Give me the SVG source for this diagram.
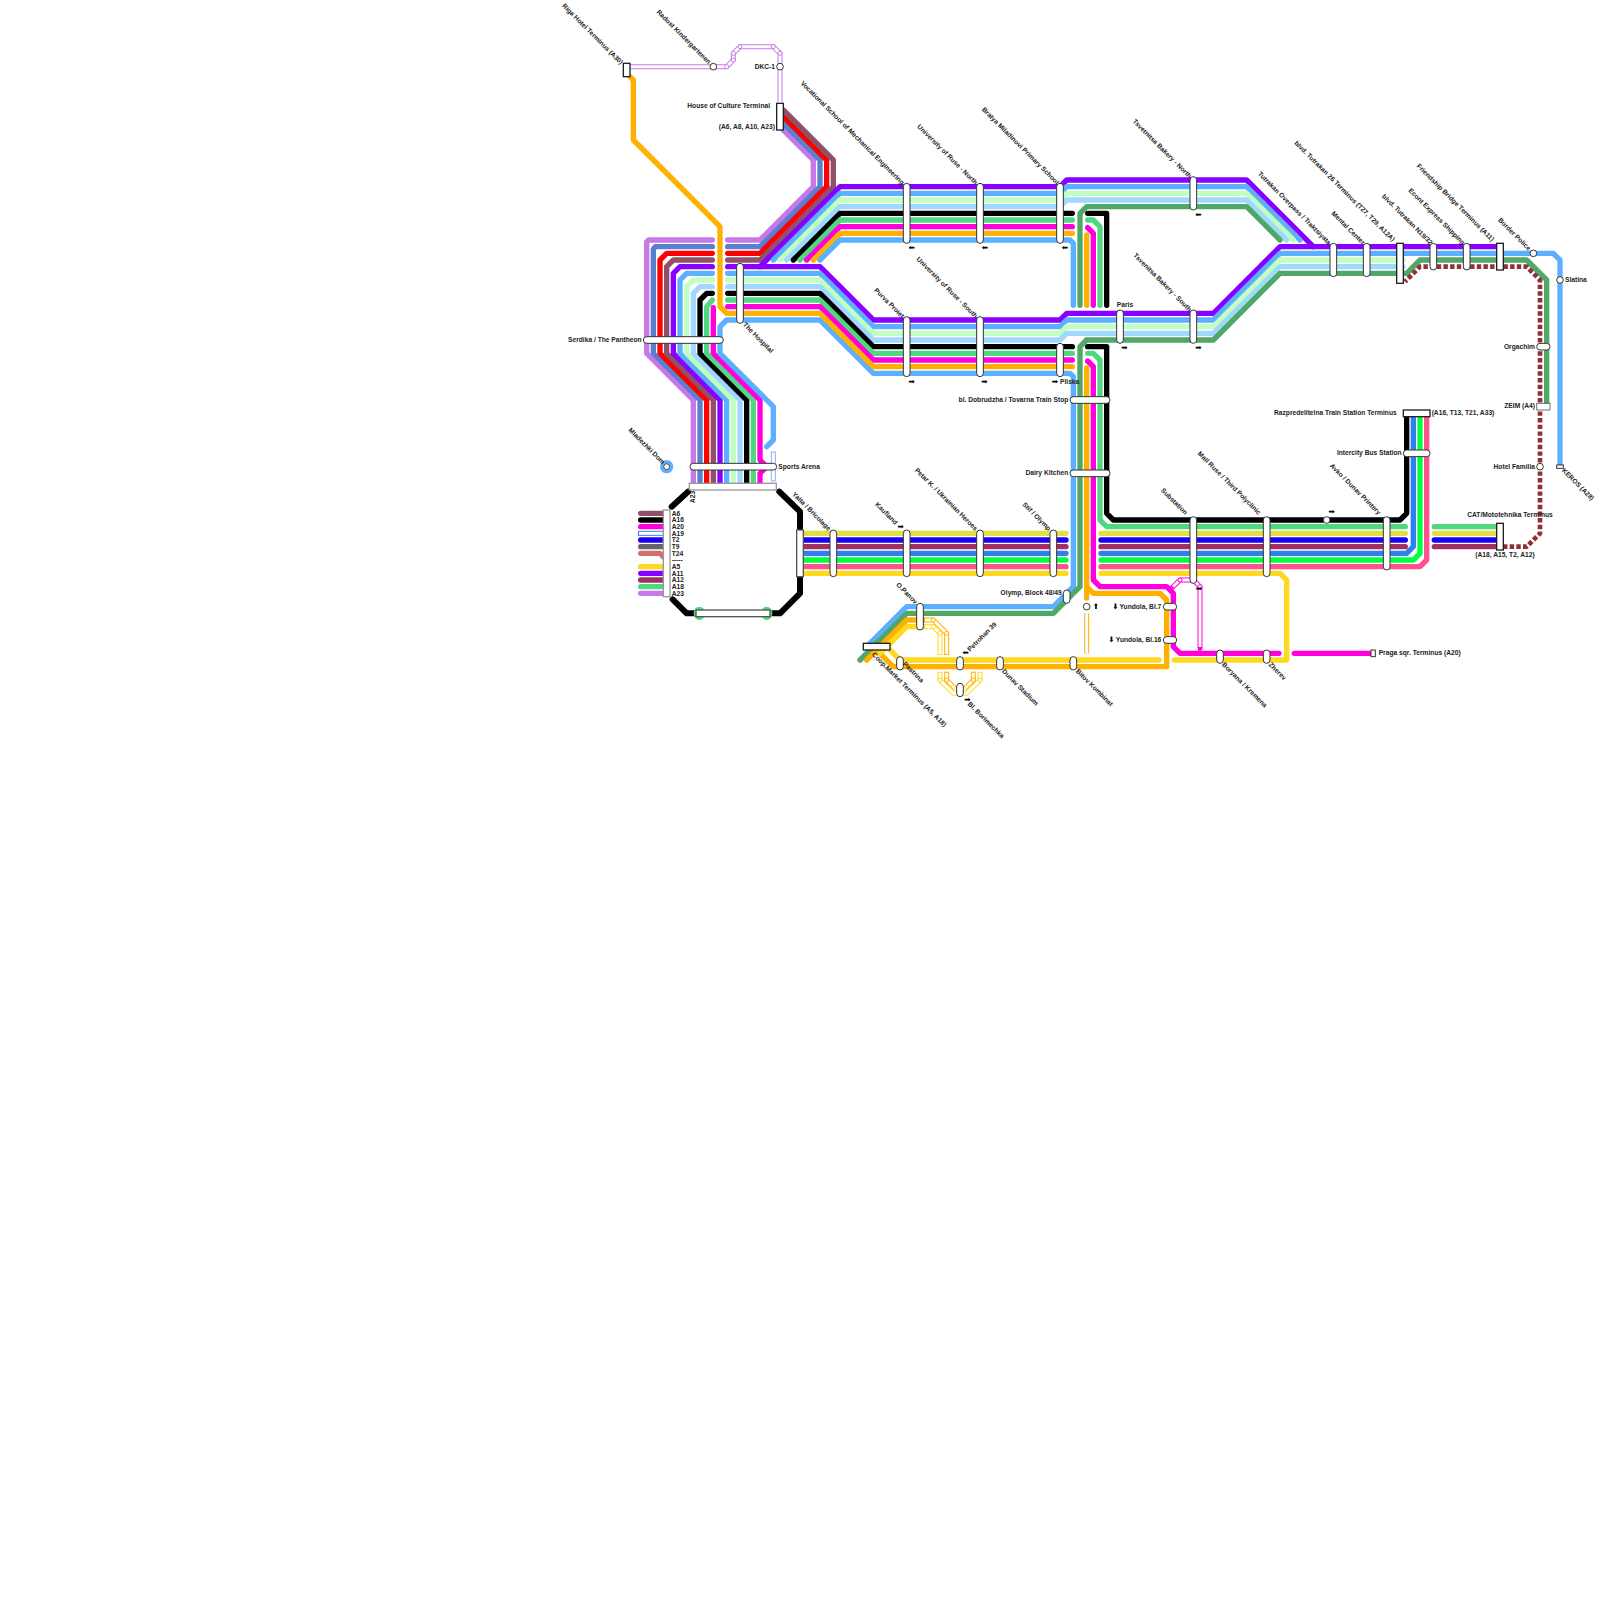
<svg xmlns="http://www.w3.org/2000/svg" width="1600" height="1600" viewBox="0 0 1600 1600">
<defs><style>
text{font-family:"Liberation Sans",Arial,sans-serif;font-size:6.67px;font-weight:700;fill:#222;dominant-baseline:central}
.e{text-anchor:end}.m{text-anchor:middle}
text.ar{font-family:"DejaVu Sans",sans-serif;font-size:7.5px;font-weight:400;text-anchor:middle;fill:#000}
#connectors path{fill:none;stroke-width:5.33;stroke-linecap:round;stroke-linejoin:round}
.pur{stroke:#8800ff}.blu{stroke:#5cb0ff}.lg{stroke:#c0ffc0}.lb{stroke:#a0d8ff}.blk{stroke:#000}.grn{stroke:#50d880}.mag{stroke:#ff00dd}.org{stroke:#ffb000}.dg{stroke:#50a868}.orc{stroke:#c878e8}.stl{stroke:#5880d0}.red{stroke:#f00}.mau{stroke:#905068}.yg{stroke:#e0e040}.ind{stroke:#2000f0}.cri{stroke:#a03060}.az{stroke:#3080f0}.neo{stroke:#00ff40}.pnk{stroke:#ff5090}.yel{stroke:#ffd820}.gry{stroke:#666}.sal{stroke:#d07070}
#connectors path.drk{stroke:#903038;stroke-linecap:butt;stroke-dasharray:4.4 2.27;stroke-width:4.67}
#connectors path.hw{stroke-width:5;stroke-linecap:butt}
#connectors path.hi{stroke:#fff;stroke-width:3;stroke-linecap:butt}
#connectors path.oct{stroke-width:6}
.j{fill:#fff;stroke-width:1}
.p{fill:#fff;stroke:#333;stroke-width:1}
.t{fill:#fff;stroke:#222;stroke-width:1.33}
.g{fill:#fff;stroke:#999;stroke-width:1.33}
.c{fill:#fff;stroke:#333;stroke-width:1}
</style></defs>
<rect width="1600" height="1600" fill="#fff"/>
<g id="connectors">
<path class="orc" d="M727.67,240H760L813.33,186.67V160L783.33,130"/>
<path class="stl" d="M727.67,246.67H760L820,186.67V160L783.33,123.33"/>
<path class="red" d="M727.67,253.33H760L826.67,186.67V160L783.33,116.67"/>
<path class="mau" d="M727.67,260H760L833.33,186.67V160L783.33,110"/>
<path class="orc" d="M712.33,240H648.67L646.67,242V353.33L693.33,400V483"/>
<path class="stl" d="M712.33,246.67H655.33L653.33,249V353.33L700,400V483"/>
<path class="red" d="M712.33,253.33H666.67L660,260V353.33L706.67,400V483"/>
<path class="mau" d="M712.33,260H673.33L666.67,266.67V353.33L713.33,400V483"/>
<path class="pur" d="M712.33,266.67H680L673.33,273.33V353.33L720,400V483"/>
<path class="blu" d="M712.33,273.33H686.67L680,280V353.33L726.67,400V483"/>
<path class="lg" d="M712.33,280H693.33L686.67,286.67V353.33L733.33,400V483"/>
<path class="lb" d="M712.33,286.67H700L693.33,293.33V353.33L740,400V483"/>
<path class="blk" d="M712.33,293.33H706.67L700,300V353.33L746.67,400V483"/>
<path class="grn" d="M712.33,300L706.67,306.67V353.33L753.33,400V483"/>
<path class="mag" d="M713.33,307.67V353.33L760,400V460L766.67,466.67L760,473.33V483"/>
<path class="pur" d="M760,266.67L840,186.67H1060L1066.67,180H1246.67L1313.33,246.67"/>
<path class="blu" d="M773.33,260L840,193.33H1060L1066.67,186.67H1246.67L1300,240"/>
<path class="lg" d="M780,260L840,200H1060L1066.67,193.33H1246.67L1293.33,240"/>
<path class="lb" d="M786.67,260L840,206.67H1060L1066.67,200H1246.67L1286.67,240"/>
<path class="blk" d="M793.33,260L840,213.33H1072.33"/>
<path class="grn" d="M800,260L840,220H1072.33"/>
<path class="mag" d="M806.67,260L840,226.67H1072.33"/>
<path class="org" d="M813.33,260L840,233.33H1072.33"/>
<path class="blu" d="M820,260L840,240H1070L1073.33,243.33V305.33"/>
<path class="dg" d="M1080,305.33V213.33L1086.67,206.67H1246.67L1280,240"/>
<path class="org" d="M1086.67,235V305.33"/>
<path class="mag" d="M1087.67,227.67L1093.33,233.33V305.33"/>
<path class="grn" d="M1087.67,220H1093.33L1100,226.67V305.33"/>
<path class="blk" d="M1087.67,213.33H1106.67V305.33"/>
<path class="pur" d="M727.67,266.67H820L873.33,320H1060L1066.67,313.33H1213.33L1280,246.67H1500"/>
<path class="blu" d="M727.67,273.33H820L873.33,326.67H1060L1066.67,320H1213.33L1280,253.33H1553.33L1560,260V465"/>
<path class="lg" d="M727.67,280H820L873.33,333.33H1060L1066.67,326.67H1213.33L1280,260H1403"/>
<path class="lb" d="M727.67,286.67H820L873.33,340H1060L1066.67,333.33H1213.33L1280,266.67H1403"/>
<path class="blk" d="M727.67,293.33H820L873.33,346.67H1072.33"/>
<path class="grn" d="M727.67,300H820L873.33,353.33H1072.33"/>
<path class="mag" d="M727.67,306.67H820L873.33,360H1072.33"/>
<path class="blu" d="M766.67,446.67L773.33,440V406.67L720,353.33V326.67L726.67,320H820L873.33,373.33H1070L1073.33,376.67V586.67L1053.33,606.67H906.67L866.67,646.67"/>
<path class="org" d="M630,76.67L633.33,80V140L720,226.67V306.67L726.67,313.33H820L873.33,366.67H1072.33"/>
<path class="dg" d="M1086.67,340H1213.33L1280,273.33H1406.67L1420,260H1526.67L1546.67,280V403.33"/>
<path class="dg" d="M1086.67,340L1080,346.67V586.67L1053.33,613.33H906.67L860,660"/>
<path class="org" d="M1086.67,368V598"/>
<path class="org" d="M1086.67,586.67L1093.33,593.33H1160L1166.67,600V666.67H893.33L879,652.67"/>
<path class="org" d="M866.67,660L906.67,620H925"/>
<path class="yel" d="M880,653.33L906.67,626.67H925"/>
<path class="yel" d="M1159,660H900L886,646"/>
<path class="mag" d="M1087.67,361L1093.33,366.67V580L1100,586.67H1166.67L1173.33,593.33V646.67L1180,653.33H1279"/>
<path class="mag" d="M1294.33,653.33H1371"/>
<path class="grn" d="M1087.67,353.33H1093.33L1100,360V520L1106.67,526.67H1405.33"/>
<path class="blk" d="M1087.67,346.67H1106.67V513.33L1113.33,520H1400L1406.67,513.33V413"/>
<path class="yg" d="M803,533.33H1066M1101,533.33H1405.33M1434.33,533.33H1497"/>
<path class="ind" d="M803,540H1066M1101,540H1405.33M1434.33,540H1497"/>
<path class="cri" d="M803,546.67H1066M1101,546.67H1405.33M1434.33,546.67H1497"/>
<path class="az" d="M803,553.33H1066M1101,553.33H1406.67L1413.33,546.67V413"/>
<path class="neo" d="M803,560H1066M1101,560H1413.33L1420,553.33V413"/>
<path class="pnk" d="M803,566.67H1066M1101,566.67H1420L1426.67,560V413"/>
<path class="yel" d="M803,573.33H1066M1101,573.33H1280L1286.67,580V660H1174.33"/>
<path class="grn" d="M1434.33,526.67H1497"/>
<path class="drk" d="M1503,546.67H1526.67L1540,533.33V280L1526.67,266.67H1420L1405,281.67"/>
<path class="blk oct" d="M688,491.67L671.67,506.67"/>
<path class="blk oct" d="M779.33,491.67L800,511.67V528"/>
<path class="blk oct" d="M800,578V593.33L780,613.33H771.67"/>
<path class="blk oct" d="M672.67,599.33L686.67,613.33H695"/>
<path class="mau" d="M640.67,513.33H663"/><path class="blk" d="M640.67,520H663"/><path class="mag" d="M640.67,526.67H663"/>
<path class="az hw" d="M638,533.33H663"/><path class="hi" d="M639,533.33H663"/>
<path class="ind" d="M640.67,540H663"/><path class="gry" d="M640.67,546.67H663"/>
<path class="sal" d="M640.67,553.33H660L663.33,557"/>
<path class="yel" d="M640.67,566.67H663"/><path class="pur" d="M640.67,573.33H663"/><path class="cri" d="M640.67,580H663"/><path class="grn" d="M640.67,586.67H663"/><path class="orc" d="M640.67,593.33H663"/>
<path class="orc hw" d="M630,66.67H726.67L733.33,60V53.33L740,46.67H773.33L780,53.33V102"/>
<path class="hi" d="M630,66.67H726.67L733.33,60V53.33L740,46.67H773.33L780,53.33V102"/>
<path class="mag hw" d="M1171.67,588L1180,580H1193.33L1200,586.67V648.33H1198"/>
<path class="hi" d="M1173,586.67L1180,580H1193.33L1200,586.67V647"/>
<path class="org hw" d="M1086.67,613.33V653.33"/><path class="hi" d="M1086.67,613.33V653.33"/>
<path class="blu hw" style="stroke:#80b0ff" d="M773.33,451.5V481.5"/><path class="hi" d="M773.33,452.5V480.5"/>
<path class="org hw" d="M925,620H933.33L946.67,633.33V655"/><path class="hi" d="M925,620H933.33L946.67,633.33V654"/>
<path class="yel hw" d="M925,626.67H933.33L940,633.33V655"/><path class="hi" d="M925,626.67H933.33L940,633.33V654"/>
<path class="yel hw" d="M940,671.67V680L953.33,693.33H966.67L980,680V671.67"/><path class="hi" d="M940,672.67V680L953.33,693.33H966.67L980,680V672.67"/>
<path class="org hw" d="M946.67,671.67V680L955,688.33"/><path class="hi" d="M946.67,672.67V680L955,688.33"/>
<path class="org hw" d="M973.33,671.67V680L965,688.33"/><path class="hi" d="M973.33,672.67V680L965,688.33"/>
<g class="orc">
<circle class="j" cx="726.67" cy="66.67" r="2"/><circle class="j" cx="733.33" cy="60" r="2"/><circle class="j" cx="733.33" cy="53.33" r="2"/><circle class="j" cx="740" cy="46.67" r="2"/><circle class="j" cx="773.33" cy="46.67" r="2"/><circle class="j" cx="780" cy="53.33" r="2"/>
</g>
<g class="mag"><circle class="j" cx="1180" cy="580" r="2"/><circle class="j" cx="1200" cy="586.67" r="2"/></g>
<g class="org"><circle class="j" cx="933.33" cy="620" r="2"/><circle class="j" cx="946.67" cy="633.33" r="2"/><circle class="j" cx="946.67" cy="680" r="2"/><circle class="j" cx="973.33" cy="680" r="2"/></g>
<g class="yel"><circle class="j" cx="933.33" cy="626.67" r="2"/><circle class="j" cx="940" cy="633.33" r="2"/><circle class="j" cx="940" cy="680" r="2"/><circle class="j" cx="980" cy="680" r="2"/><circle class="j" cx="953.33" cy="686.67" r="2"/><circle class="j" cx="966.67" cy="686.67" r="2"/></g>
</g>
<g id="legend">
<rect class="g" x="663.33" y="510" width="6.67" height="86.67"/>
<text x="671.67" y="513">A6</text><text x="671.67" y="519.67">A16</text><text x="671.67" y="526.33">A20</text><text x="671.67" y="533">A19</text><text x="671.67" y="539.67">T2</text><text x="671.67" y="546.33">T9</text><text x="671.67" y="553">T24</text><text x="671.67" y="559.67">-----</text><text x="671.67" y="566.33">A5</text><text x="671.67" y="573">A11</text><text x="671.67" y="579.67">A12</text><text x="671.67" y="586.33">A18</text><text x="671.67" y="593">A23</text>
<text transform="translate(692.67,497) rotate(-90)" class="m">A23</text>
</g>
<g id="hub">
<rect class="g" x="689.33" y="483.33" width="87" height="6.67"/>
<ellipse cx="699.33" cy="613.33" rx="5.67" ry="6.67" fill="#50d880"/><ellipse cx="766.67" cy="613.33" rx="5.67" ry="6.67" fill="#50d880"/>
<rect x="696" y="610" width="74" height="6.67" fill="#fff" stroke="#555" stroke-width="1.33"/>
<rect x="796.67" y="530" width="6.67" height="46.67" fill="#fff" stroke="#555" stroke-width="1.33"/>
</g>
<g id="st-riga"><rect class="t" x="623.33" y="63.33" width="6.67" height="13.33"/><text class="e" transform="translate(622,63) rotate(45)">Riga Hotel Terminus (A30)</text></g>
<g id="st-radost"><circle class="c" cx="713.33" cy="66.67" r="3.33"/><text class="e" transform="translate(710,62.7) rotate(45)">Radost Kindergartenen</text></g>
<g id="st-dkc"><circle class="c" cx="780" cy="66.67" r="3.33"/><text class="e" x="775" y="66">DKC-1</text></g>
<g id="st-house"><rect class="t" x="776.67" y="103.33" width="6.67" height="26.67"/><text class="e" x="770" y="105.67">House of Culture Terminal</text><text class="e" x="775" y="126">(A6, A8, A10, A23)</text></g>
<g id="st-hospital"><rect class="p" x="736.67" y="263.33" width="6.67" height="60" rx="3.33"/><text transform="translate(744.3,323.3) rotate(45)">The Hospital</text></g>
<g id="st-serdika"><rect class="p" x="643.33" y="336.67" width="80" height="6.67" rx="3.33"/><text class="e" x="641.67" y="339">Serdika / The Pantheon</text></g>
<g id="st-sports"><rect class="p" x="690" y="463.33" width="86.67" height="6.67" rx="3.33"/><text x="778.33" y="466">Sports Arena</text></g>
<g id="st-mladezhki"><circle cx="666.67" cy="466.67" r="5" fill="#fff" stroke="#5cb0ff" stroke-width="3.33"/><circle class="c" cx="666.67" cy="466.67" r="3"/><text class="e" transform="translate(664,463) rotate(45)">Mladezhki Dom</text></g>
<g id="st-vocational"><rect class="p" x="903.33" y="183.33" width="6.67" height="60" rx="3.33"/><text class="e" transform="translate(903.3,183.3) rotate(45)">Vocational School of Mechanical Engineering</text><text class="ar" x="911.67" y="247.67">⬅</text></g>
<g id="st-ruse-n"><rect class="p" x="976.67" y="183.33" width="6.67" height="60" rx="3.33"/><text class="e" transform="translate(976.67,183.3) rotate(45)">University of Ruse - North</text><text class="ar" x="985" y="247.67">⬅</text></g>
<g id="st-bratya"><rect class="p" x="1056.67" y="183.33" width="6.67" height="60" rx="3.33"/><text class="e" transform="translate(1058,183) rotate(45)">Bratya Miladinovi Primary School</text><text class="ar" x="1065" y="247.67">⬅</text></g>
<g id="st-tsv-n"><rect class="p" x="1190" y="176.67" width="6.67" height="33.33" rx="3.33"/><text class="e" transform="translate(1190.67,176.67) rotate(45)">Tsvetnitsa Bakery - North</text><text class="ar" x="1198.33" y="214.33">⬅</text></g>
<g id="st-tutrakan-ov"><rect class="p" x="1330" y="243.33" width="6.67" height="33.33" rx="3.33"/><text class="e" transform="translate(1330,243.3) rotate(45)">Tutrakan Overpass / Traktsiyata</text></g>
<g id="st-mental"><rect class="p" x="1363.33" y="243.33" width="6.67" height="33.33" rx="3.33"/><text class="e" transform="translate(1364,243.3) rotate(45)">Mental Center</text></g>
<g id="st-tutrakan26"><rect class="t" x="1396.67" y="243.33" width="6.67" height="40"/><text class="e" transform="translate(1394,240) rotate(45)">blvd. Tutrakan 26 Terminus (T27, T29, A12A)</text></g>
<g id="st-n19"><rect class="p" x="1430" y="243.33" width="6.67" height="26.67" rx="3.33"/><text class="e" transform="translate(1431.67,243.3) rotate(45)">blvd. Tutrakan N19/32</text></g>
<g id="st-econt"><rect class="p" x="1463.33" y="243.33" width="6.67" height="26.67" rx="3.33"/><text class="e" transform="translate(1464,243.3) rotate(45)">Econt Express Shipping</text></g>
<g id="st-friendship"><rect class="t" x="1496.67" y="243.33" width="6.67" height="26.67"/><text class="e" transform="translate(1493.3,240) rotate(45)">Friendship Bridge Terminus (A11)</text></g>
<g id="st-border"><circle class="c" cx="1533.33" cy="253.33" r="3.33"/><text class="e" transform="translate(1530,249.3) rotate(45)">Border Police</text></g>
<g id="st-slatina"><circle class="c" cx="1560" cy="280" r="3.33"/><text x="1565" y="279.3">Slatina</text></g>
<g id="st-orgachim"><rect class="p" x="1536.67" y="343.33" width="13.33" height="6.67" rx="3.33"/><text class="e" x="1535" y="346">Orgachim</text></g>
<g id="st-zeim"><rect class="p" x="1536.67" y="403.33" width="13.33" height="6.67" stroke-opacity=".7"/><text class="e" x="1535" y="405.67">ZEIM (A4)</text></g>
<g id="st-familia"><circle class="c" cx="1540" cy="466.67" r="3.33"/><text class="e" x="1535" y="466">Hotel Familia</text></g>
<g id="st-keros"><rect class="p" x="1556.67" y="465" width="6.67" height="3.33"/><text transform="translate(1563.3,469.3) rotate(45)">KEROS (A28)</text></g>
<g id="st-cat"><rect class="t" x="1496.67" y="523.33" width="6.67" height="26.67"/><text class="m" x="1510" y="514.33">CAT/Mototehnika Terminus</text><text class="m" x="1505" y="554.33">(A18, A15, T2, A12)</text></g>
<g id="st-razpred"><rect class="t" x="1403.33" y="410" width="26.67" height="6.67"/><text class="e" x="1396.67" y="412.33">Razpredelitelna Train Station Terminus</text><text x="1431.67" y="412.33">(A16, T13, T21, A33)</text></g>
<g id="st-intercity"><rect class="p" x="1403.33" y="450" width="26.67" height="6.67" rx="3.33"/><text class="e" x="1401.67" y="452.67">Intercity Bus Station</text></g>
<g id="st-avko"><rect class="p" x="1383.33" y="516.67" width="6.67" height="53.33" rx="3.33"/><text class="e" transform="translate(1380,513.3) rotate(45)">Avko / Dunav Printery</text></g>
<g id="st-avko-arrow"><circle class="c" cx="1326.67" cy="520" r="3.33"/><text class="ar" x="1331.67" y="511">➡</text></g>
<g id="st-mall"><rect class="p" x="1263.33" y="516.67" width="6.67" height="60" rx="3.33"/><text class="e" transform="translate(1260,513.3) rotate(45)">Mall Ruse / Third Polyclinic</text></g>
<g id="st-substation"><rect class="p" x="1190" y="516.67" width="6.67" height="66.67" rx="3.33"/><text class="e" transform="translate(1186.67,513.3) rotate(45)">Substation</text><text class="ar" x="1199" y="588">➡</text></g>
<g id="st-purva"><rect class="p" x="903.33" y="316.67" width="6.67" height="60" rx="3.33"/><text class="e" transform="translate(903.3,316.67) rotate(45)">Purva Proiet</text><text class="ar" x="911.67" y="381">➡</text></g>
<g id="st-ruse-s"><rect class="p" x="976.67" y="316.67" width="6.67" height="60" rx="3.33"/><text class="e" transform="translate(976.67,316.67) rotate(45)">University of Ruse - South</text><text class="ar" x="984.33" y="381">➡</text></g>
<g id="st-pliska"><rect class="p" x="1056.67" y="343.33" width="6.67" height="33.33" rx="3.33"/><text class="ar" x="1055" y="381">➡</text><text x="1060" y="381">Pliska</text></g>
<g id="st-paris"><rect class="p" x="1116.67" y="310" width="6.67" height="33.33" rx="3.33"/><text class="m" x="1125" y="304.33">Paris</text><text class="ar" x="1124.33" y="347.67">➡</text></g>
<g id="st-tsv-s"><rect class="p" x="1190" y="310" width="6.67" height="33.33" rx="3.33"/><text class="e" transform="translate(1190.67,310) rotate(45)">Tsvenitsa Bakery - South</text><text class="ar" x="1198.33" y="347.67">➡</text></g>
<g id="st-dobrudzha"><rect class="p" x="1070" y="396.67" width="40" height="6.67" rx="3.33"/><text class="e" x="1068.33" y="399.33">bl. Dobrudzha / Tovarna Train Stop</text></g>
<g id="st-dairy"><rect class="p" x="1070" y="470" width="40" height="6.67" rx="3.33"/><text class="e" x="1068.33" y="472.67">Dairy Kitchen</text></g>
<g id="st-yalta"><rect class="p" x="830" y="530" width="6.67" height="46.67" rx="3.33"/><text class="e" transform="translate(830,529.3) rotate(45)">Yalta / Bricolage</text></g>
<g id="st-kaufland"><rect class="p" x="903.33" y="530" width="6.67" height="46.67" rx="3.33"/><text class="e" transform="translate(896.67,523.3) rotate(45)">Kaufland</text><text class="ar" x="900.67" y="526">➡</text></g>
<g id="st-petar"><rect class="p" x="976.67" y="530" width="6.67" height="46.67" rx="3.33"/><text class="e" transform="translate(976.67,529.3) rotate(45)">Petar K. / Ukrainian Heroes</text></g>
<g id="st-stif"><rect class="p" x="1050" y="530" width="6.67" height="46.67" rx="3.33"/><text class="e" transform="translate(1050,529.3) rotate(45)">Stif / Olymp</text></g>
<g id="st-olymp48"><rect class="p" x="1063.33" y="590" width="6.67" height="13.33" rx="3.33"/><text class="e" x="1061.67" y="592.67">Olymp, Block 48/49</text></g>
<g id="st-yundola-arrow"><circle class="c" cx="1086.67" cy="606.67" r="3.33"/><text class="ar" x="1096" y="606">⬆</text></g>
<g id="st-yundola7"><rect class="p" x="1163.33" y="603.33" width="13.33" height="6.67" rx="3.33"/><text class="e" x="1161.33" y="606">Yundola, Bl.7</text><text class="ar" x="1115.5" y="606">⬇</text></g>
<g id="st-yundola16"><rect class="p" x="1163.33" y="636.67" width="13.33" height="6.67" rx="3.33"/><text class="e" x="1161.33" y="639.33">Yundola, Bl.16</text><text class="ar" x="1111.5" y="639.33">⬇</text></g>
<g id="st-boryana"><rect class="p" x="1216.67" y="650" width="6.67" height="13.33" rx="3.33"/><text transform="translate(1223.3,663.3) rotate(45)">Boryana / Kremena</text></g>
<g id="st-zherev"><rect class="p" x="1263.33" y="650" width="6.67" height="13.33" rx="3.33"/><text transform="translate(1270,663.3) rotate(45)">Zherev</text></g>
<g id="st-praga"><rect class="p" x="1371" y="650" width="4.33" height="6.67"/><text x="1378.67" y="652.67">Praga sqr. Terminus (A20)</text></g>
<g id="st-panov"><rect class="p" x="916.67" y="603.33" width="6.67" height="26.67" rx="3.33"/><text class="e" transform="translate(916.67,602.67) rotate(45)">O.Panov</text></g>
<g id="st-coop"><rect class="t" x="863.33" y="643.33" width="26.67" height="6.67"/><text transform="translate(873.3,653.3) rotate(45)">Coop.Market Terminus (A5, A18)</text></g>
<g id="st-pastrina"><rect class="p" x="896.67" y="656.67" width="6.67" height="13.33" rx="3.33"/><text transform="translate(904.3,662.67) rotate(45)">Pastrina</text></g>
<g id="st-petrohan"><rect class="p" x="956.67" y="656.67" width="6.67" height="13.33" rx="3.33"/><text transform="translate(968.3,650) rotate(-45)">Petrohan 39</text><text class="ar" x="965.67" y="652.67">⬅</text></g>
<g id="st-borimechka"><rect class="p" x="956.67" y="683.33" width="6.67" height="13.33" rx="3.33"/><text transform="translate(969,702.67) rotate(45)">Bl. Borimechka</text><text class="ar" x="967.33" y="699.33">➡</text></g>
<g id="st-dunav"><rect class="p" x="996.67" y="656.67" width="6.67" height="13.33" rx="3.33"/><text transform="translate(1003.3,670) rotate(45)">Dunav Stadium</text></g>
<g id="st-bitov"><rect class="p" x="1070" y="656.67" width="6.67" height="13.33" rx="3.33"/><text transform="translate(1077.3,670) rotate(45)">Bitov Kombinat</text></g>
</svg>
